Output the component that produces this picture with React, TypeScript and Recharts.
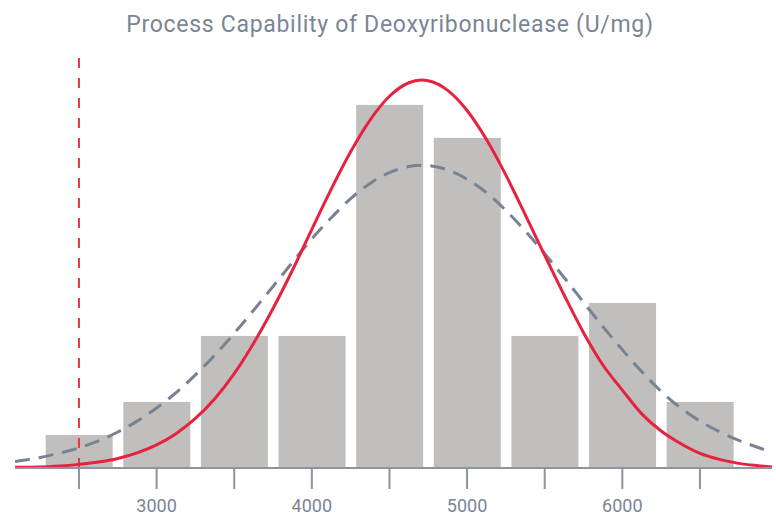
import React from "react";
import {
  Bar,
  ComposedChart,
  Line,
  ReferenceLine,
  XAxis,
  YAxis,
} from "recharts";

// histogram bins (U/mg) and counts
const binCenters = [2500, 3000, 3500, 4000, 4500, 5000, 5500, 6000, 6500];
const binCounts = [1, 2, 4, 4, 11, 10, 4, 5, 2];

// fitted curves (in count units)
const curveX = [
  2088, 2250, 2375, 2500, 2625, 2750, 2875, 3000, 3125, 3250, 3375, 3500,
  3625, 3750, 3875, 4000, 4125, 4250, 4375, 4500, 4625, 4705, 4750, 4875,
  5000, 5125, 5250, 5375, 5500, 5625, 5750, 5875, 6000, 6125, 6250, 6375,
  6500, 6625, 6750, 6875, 6964,
];
const withinFit = [
  0.02, 0.03, 0.06, 0.11, 0.18, 0.29, 0.46, 0.7, 1.04, 1.5, 2.1, 2.86, 3.78,
  4.83, 5.99, 7.23, 8.45, 9.58, 10.54, 11.26, 11.67, 11.75, 11.73, 11.44,
  10.83, 9.95, 8.87, 7.67, 6.44, 5.24, 4.1, 3.12, 2.36, 1.64, 1.12, 0.74,
  0.44, 0.26, 0.14, 0.07, 0.03,
];
const overallFit = [
  0.2, 0.32, 0.45, 0.61, 0.82, 1.09, 1.42, 1.82, 2.28, 2.82, 3.42, 4.08, 4.78,
  5.5, 6.23, 6.94, 7.58, 8.16, 8.62, 8.95, 9.13, 9.17, 9.16, 9.03, 8.75, 8.34,
  7.8, 7.18, 6.49, 5.77, 5.02, 4.28, 3.58, 2.92, 2.32, 1.82, 1.42, 1.1, 0.84,
  0.62, 0.48,
];

const xTicks = [2500, 3000, 3500, 4000, 4500, 5000, 5500, 6000, 6500];
const lowerSpec = 2500;
const xDomain = [2088, 6964];
const yDomain = [0, 12.45];

const title = "Process Capability of Deoxyribonuclease (U/mg)";

const data = curveX.map((x, i) => {
  const b = binCenters.indexOf(x);
  return {
    x,
    within: withinFit[i],
    overall: overallFit[i],
    count: b >= 0 ? binCounts[b] : undefined,
  };
});

const BAR_W = 67;
const AXIS = "#8b94a0";
const TEXT = "#7a8595";
const FONT = "Roboto, 'Noto Sans', sans-serif";

function BinRect(props: any) {
  const { x, y, width, height } = props;
  if (!height || height <= 0) return null;
  const cx = x + width / 2;
  return (
    <rect x={cx - BAR_W / 2} y={y} width={BAR_W} height={height} fill="#c1bfbd" />
  );
}

export default function App() {
  return (
    <div style={{ position: "absolute", left: 0, top: 0, width: 776, height: 516 }}>
      <div
        style={{
          position: "absolute",
          left: 2,
          top: 13,
          width: 776,
          textAlign: "center",
          fontFamily: FONT,
          fontSize: 23,
          letterSpacing: 0.7,
          lineHeight: "23px",
          color: TEXT,
        }}
      >
        {title}
      </div>
      <ComposedChart
        width={776}
        height={516}
        data={data}
        margin={{ top: 57, right: 4, bottom: 0, left: 15 }}
      >
        <XAxis
          dataKey="x"
          type="number"
          domain={xDomain}
          ticks={xTicks}
          allowDataOverflow
          height={48}
          stroke={AXIS}
          strokeWidth={2}
          tickSize={21}
          tickMargin={10}
          tick={{ fill: TEXT, fontSize: 18, fontFamily: FONT }}
          tickFormatter={(v: number) => (v % 1000 === 0 ? String(v) : "")}
        />
        <YAxis
          type="number"
          domain={yDomain}
          allowDataOverflow
          width={0}
          tick={false}
          tickLine={false}
          stroke={AXIS}
          strokeWidth={2}
        />
        <Bar dataKey="count" shape={<BinRect />} isAnimationActive={false} />
        <ReferenceLine
          x={lowerSpec}
          stroke="#ee3346"
          strokeWidth={2}
          strokeDasharray="10 10"
        />
        <Line
          dataKey="overall"
          type="monotone"
          stroke="#778393"
          strokeWidth={3}
          strokeDasharray="15 9"
          dot={false}
          isAnimationActive={false}
        />
        <Line
          dataKey="within"
          type="monotone"
          stroke="#e8213f"
          strokeWidth={3}
          dot={false}
          isAnimationActive={false}
        />
      </ComposedChart>
    </div>
  );
}
